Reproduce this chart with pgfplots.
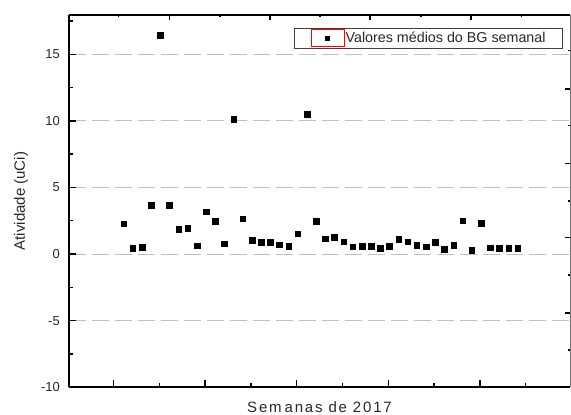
\documentclass[border=0pt]{standalone}
\usepackage{fontspec}
\setmainfont{Liberation Sans}
\usepackage{pgfplots}
\pgfplotsset{compat=1.18}

\definecolor{gridgray}{RGB}{192,192,192}
\definecolor{txt}{RGB}{40,40,40}

\begin{document}
\begin{tikzpicture}

% main axis: left and bottom spines, ticks, grid, data
\begin{axis}[
  scale only axis,
  width=501bp, height=372.3bp,
  xmin=-5, xmax=49.68,
  ymin=-10, ymax=17.95,
  axis lines*=left,
  axis line style={-, line width=2bp, black},
  xtick={-0.15,9.85,19.85,29.85,39.85},
  minor xtick={4.85,14.85,24.85,34.85,44.85},
  xticklabels={},
  ytick={-10,-5,0,5,10,15},
  yticklabels={-10,-5,0,5,10,15},
  minor ytick={-7.5,-2.5,2.5,7.5,12.5,17.5},
  tick align=inside,
  major tick length=7bp, minor tick length=4bp,
  every tick/.style={black, line width=1.4bp},
  yticklabel style={font=\fontsize{13bp}{15bp}\selectfont, text=txt, inner sep=0pt, xshift=-9bp},
  ymajorgrids,
  y grid style={gridgray, line width=0.9bp, dash pattern=on 17bp off 6bp},
  xlabel={\addfontfeature{LetterSpace=12}Sem\hspace{3bp}anas de 2017},
  ylabel={Atividade (uCi)},
  label style={font=\fontsize{15bp}{17bp}\selectfont, text=txt},
  xlabel style={at={(axis description cs:0.5,0)}, anchor=center, yshift=-19.7bp},
  ylabel style={at={(axis description cs:0,0.5)}, anchor=center, yshift=48bp},
  legend style={at={(rel axis cs:1,1)}, anchor=north east, xshift=-7bp, yshift=-13bp,
    draw=black!75, line width=0.8bp, inner xsep=16bp, inner ysep=1bp,
    font=\fontsize{14.3bp}{16bp}\selectfont, text=txt,
    nodes={inner sep=1bp}},
]
\addplot[only marks, mark=square*, mark size=2.8bp,
  mark options={fill=black, draw=black, line width=0pt},
  legend image code/.code={
    \draw[red, line width=0.9bp] (0bp,-8.5bp) rectangle (33bp,8.5bp);
    \fill[black] (14.5bp,-2bp) rectangle (18.5bp,2bp);
  }]
table{%
x y
1 2.27
2 0.43
3 0.50
4 3.66
5 16.39
6 3.66
7 1.83
8 1.90
9 0.60
10 3.15
11 2.43
12 0.75
13 10.11
14 2.63
15 1.00
16 0.85
17 0.85
18 0.68
19 0.58
20 1.50
21 10.49
22 2.43
23 1.13
24 1.25
25 0.90
26 0.53
27 0.55
28 0.55
29 0.40
30 0.55
31 1.10
32 0.90
33 0.63
34 0.53
35 0.88
36 0.33
37 0.65
38 2.48
39 0.28
40 2.30
41 0.45
42 0.40
43 0.43
44 0.43
};
\addlegendentry{Valores médios do BG semanal}
\end{axis}

% overlay axis: top and right spines with their own ticks
\begin{axis}[
  scale only axis,
  width=501bp, height=372.3bp,
  xmin=-5, xmax=49.68,
  ymin=-10, ymax=17.95,
  axis x line*=top, axis y line*=right,
  x axis line style={-, line width=1.4bp, black},
  y axis line style={-, line width=0.8bp, black!55},
  xtick={5.95,16.94,27.85,38.87},
  minor xtick={0.38,11.48,22.39,33.42,44.41},
  ytick={-4.43,1.22,6.81,12.39},
  minor ytick={-7.2,-1.58,3.98,9.63,15.26},
  xticklabels={}, yticklabels={},
  tick align=inside,
  major tick length=5.5bp, minor tick length=2.5bp,
  every tick/.style={black, line width=1.3bp},
]
\end{axis}

\pgfresetboundingbox
\path[use as bounding box] (-69bp,-27.7bp) rectangle (502bp,387.3bp);
\end{tikzpicture}
\end{document}
